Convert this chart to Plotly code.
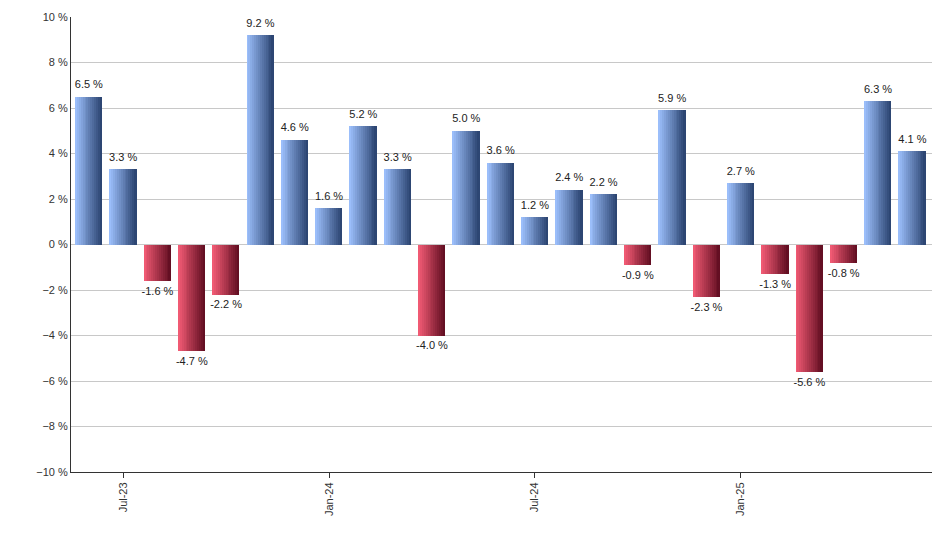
import plotly.graph_objects as go

months = ["Jun-23", "Jul-23", "Aug-23", "Sep-23", "Oct-23", "Nov-23", "Dec-23",
          "Jan-24", "Feb-24", "Mar-24", "Apr-24", "May-24", "Jun-24", "Jul-24",
          "Aug-24", "Sep-24", "Oct-24", "Nov-24", "Dec-24", "Jan-25", "Feb-25",
          "Mar-25", "Apr-25", "May-25", "Jun-25"]
returns = [6.5, 3.3, -1.6, -4.7, -2.2, 9.2, 4.6, 1.6, 5.2, 3.3, -4.0, 5.0, 3.6, 1.2,
           2.4, 2.2, -0.9, 5.9, -2.3, 2.7, -1.3, -5.6, -0.8, 6.3, 4.1]
tick_labels = ["Jul-23", "Jan-24", "Jul-24", "Jan-25"]

x = list(range(len(months)))
tick_pos = [months.index(t) for t in tick_labels]


def blend(c1, c2, t):
    return "rgb(%d,%d,%d)" % tuple(round(a + (b - a) * t) for a, b in zip(c1, c2))


# fake the horizontal gradient with thin side-by-side slices
blue_light, blue_dark = (155, 190, 250), (45, 70, 115)
red_light, red_dark = (240, 90, 115), (100, 15, 35)
n_slices = 14
bar_width = 0.78
slice_w = bar_width / n_slices

fig = go.Figure()
for i in range(n_slices):
    t = i / (n_slices - 1)
    colors = [blend(blue_light, blue_dark, t) if v >= 0 else blend(red_light, red_dark, t)
              for v in returns]
    fig.add_trace(go.Bar(
        x=x, y=returns, width=slice_w, offset=-bar_width / 2 + i * slice_w,
        marker=dict(color=colors, line=dict(width=0)),
        hoverinfo="skip", showlegend=False,
    ))

fig.add_trace(go.Scatter(
    x=x, y=[v + (0.25 if v >= 0 else -0.25) for v in returns], mode="text",
    text=["%.1f %%" % v for v in returns],
    textposition=["top center" if v >= 0 else "bottom center" for v in returns],
    textfont=dict(size=11, color="#222", family="Arial, Liberation Sans"),
    showlegend=False, hoverinfo="skip", cliponaxis=False,
))

fig.update_layout(
    width=940, height=550,
    margin=dict(l=63, r=2, t=9, b=86),
    paper_bgcolor="white", plot_bgcolor="white",
    barmode="overlay", bargap=0,
    font=dict(family="Arial, Liberation Sans", size=11, color="#333"),
    xaxis=dict(
        range=[-0.52, 24.98], tickvals=tick_pos, ticktext=tick_labels, automargin=False,
        tickangle=-90, showgrid=False, showline=True, linecolor="#333",
        ticks="outside", ticklen=5, tickcolor="#333", zeroline=False,
    ),
    yaxis=dict(
        range=[-10, 10], dtick=2, ticksuffix=" %", showgrid=True, gridcolor="#c8c8c8",
        showline=True, linecolor="#333", zeroline=True, zerolinecolor="#c8c8c8",
        zerolinewidth=1, ticks="", automargin=False,
    ),
)

fig.write_html("out.html")
